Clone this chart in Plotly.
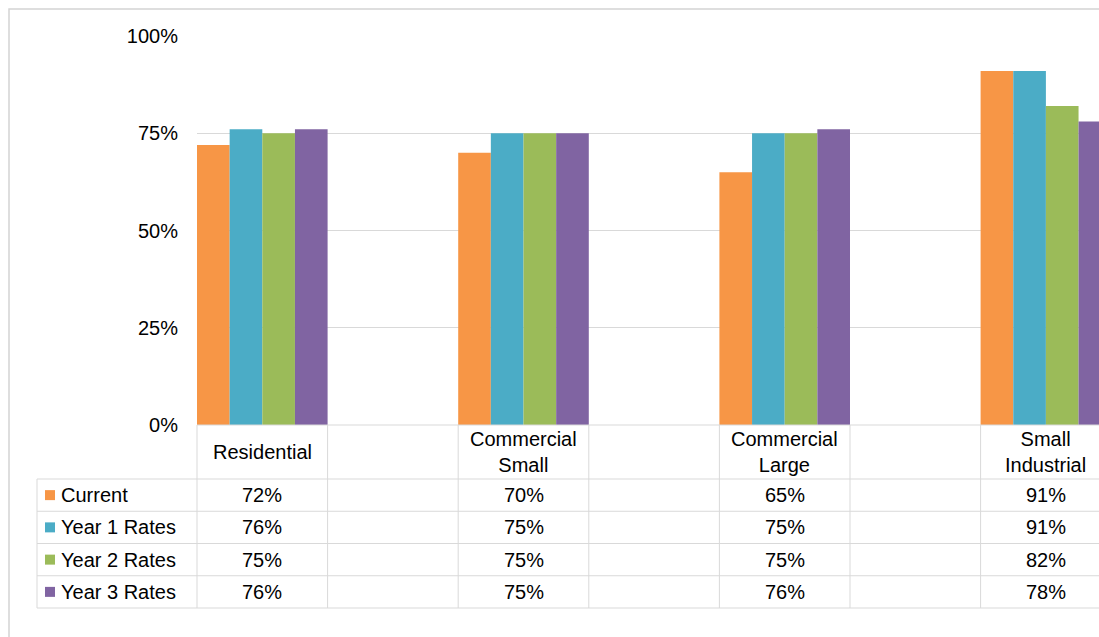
import plotly.graph_objects as go

categories = ["Residential", "Commercial<br>Small", "Commercial<br>Large", "Small<br>Industrial"]
series_names = ["Current", "Year 1 Rates", "Year 2 Rates", "Year 3 Rates"]
current = [72, 70, 65, 91]
year1 = [76, 75, 75, 91]
year2 = [75, 75, 75, 82]
year3 = [76, 75, 76, 78]
y_ticks = [0, 25, 50, 75, 100]

series_values = [current, year1, year2, year3]
colors = ["#F79646", "#4BACC6", "#9BBB59", "#8064A2"]

FONT = "Liberation Sans, Arial, sans-serif"
FS = 20
GRID = "#d9d9d9"

W, H = 1099, 637
L, R, T, B = 197, 1099, 36, 425  # plot area in px
unit = 261.2  # px per category
r0 = -0.25
r1 = r0 + (R - L) / unit

def xp(v):  # axis value -> paper
    return (v - r0) / (r1 - r0)

def pxx(p):  # pixel x -> paper
    return (p - L) / (R - L)

def pxy(p):  # pixel y -> paper
    return (B - p) / (B - T)

xs = list(range(len(categories)))

fig = go.Figure()
for name, vals, col in zip(series_names, series_values, colors):
    fig.add_trace(go.Bar(x=xs, y=vals, name=name, marker=dict(color=col, line=dict(width=0)),
                         showlegend=False, hoverinfo="skip"))

shapes = []
annotations = []

# outer chart border
shapes.append(dict(type="rect", xref="paper", yref="paper",
                   x0=pxx(9), x1=pxx(1130), y0=pxy(9), y1=pxy(680),
                   line=dict(color="#d4d4d4", width=1.5), layer="below"))

# table geometry (pixels)
header_top, header_bot = 425, 479
row_h = 32.25
row_tops = [header_bot + i * row_h for i in range(len(series_names) + 1)]
left_col = 37
legend_sq_x = 45
label_x = 59

line = dict(color=GRID, width=1)
# horizontal lines
shapes.append(dict(type="line", xref="paper", yref="paper", x0=0, x1=1.2,
                   y0=pxy(header_top), y1=pxy(header_top), line=line))
for yt in row_tops:
    shapes.append(dict(type="line", xref="paper", yref="paper", x0=pxx(left_col), x1=1.2,
                       y0=pxy(yt), y1=pxy(yt), line=line))
# vertical lines
shapes.append(dict(type="line", xref="paper", yref="paper", x0=pxx(left_col), x1=pxx(left_col),
                   y0=pxy(row_tops[0]), y1=pxy(row_tops[-1]), line=line))
for c in xs:
    for v in (c - 0.25, c + 0.25):
        shapes.append(dict(type="line", xref="paper", yref="paper", x0=xp(v), x1=xp(v),
                           y0=pxy(header_top), y1=pxy(row_tops[-1]), line=line))

# header labels
for c, cat in zip(xs, categories):
    annotations.append(dict(x=c, y=pxy((header_top + header_bot) / 2), xref="x", yref="paper",
                            text=cat, showarrow=False, xanchor="center", yanchor="middle",
                            font=dict(family=FONT, size=FS, color="#000000")))

# rows
for i, (name, vals, col) in enumerate(zip(series_names, series_values, colors)):
    yc = row_tops[i] + row_h / 2
    shapes.append(dict(type="rect", xref="paper", yref="paper",
                       x0=pxx(legend_sq_x), x1=pxx(legend_sq_x + 10),
                       y0=pxy(yc - 5), y1=pxy(yc + 5),
                       fillcolor=col, line=dict(width=0)))
    annotations.append(dict(x=pxx(label_x), y=pxy(yc), xref="paper", yref="paper",
                            text=name, showarrow=False, xanchor="left", yanchor="middle",
                            font=dict(family=FONT, size=FS, color="#000000")))
    for c, v in zip(xs, vals):
        annotations.append(dict(x=c, y=pxy(yc), xref="x", yref="paper",
                                text=f"{v}%", showarrow=False, xanchor="center", yanchor="middle",
                                font=dict(family=FONT, size=FS, color="#000000")))

fig.update_layout(
    width=W, height=H, autosize=False,
    margin=dict(l=L, r=W - R, t=T, b=H - B, pad=0),
    paper_bgcolor="white", plot_bgcolor="white",
    barmode="group", bargap=0.5, bargroupgap=0,
    font=dict(family=FONT, size=FS, color="#000000"),
    shapes=shapes, annotations=annotations,
    xaxis=dict(range=[r0, r1], showticklabels=False, showgrid=False, zeroline=False,
               showline=False, ticks=""),
    yaxis=dict(range=[0, 100], tickvals=y_ticks, ticktext=[f"{t}%" for t in y_ticks],
               showgrid=True, gridcolor=GRID, gridwidth=1, zeroline=False, showline=False,
               ticks="", ticklabelstandoff=18,
               tickfont=dict(family=FONT, size=FS, color="#000000")),
)

fig.write_html("out.html")
